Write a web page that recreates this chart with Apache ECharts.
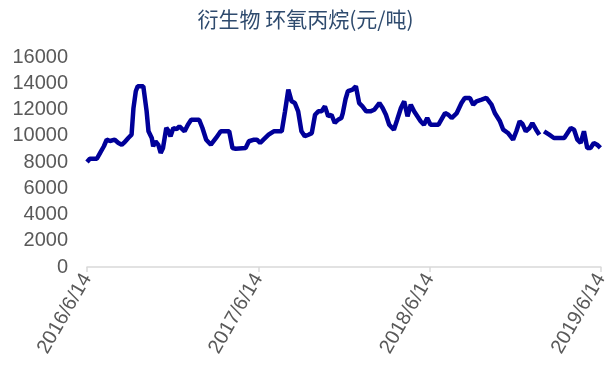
<!DOCTYPE html>
<html><head><meta charset="utf-8">
<script src="https://cdn.jsdelivr.net/npm/echarts@6/dist/echarts.min.js"></script>
<style>html,body{margin:0;padding:0;background:#fff}#c{width:611px;height:380px}</style>
</head><body><div id="c"></div>
<script>
var title = '衍生物 环氧丙烷(元/吨)';
var startDate = '2016-06-14';
var tickLabels = ['2016/6/14', '2017/6/14', '2018/6/14', '2019/6/14'];
var dates = [
'2016-06-14','2016-06-20','2016-07-05','2016-07-12','2016-07-20','2016-07-26','2016-08-02','2016-08-06','2016-08-12','2016-08-20',
'2016-08-27','2016-09-02','2016-09-10','2016-09-17','2016-09-21','2016-09-26','2016-09-30','2016-10-12','2016-10-19','2016-10-23',
'2016-10-30','2016-11-02','2016-11-07','2016-11-13','2016-11-18','2016-11-23','2016-11-30','2016-12-05','2016-12-09','2016-12-15',
'2016-12-22','2016-12-28','2017-01-08','2017-01-15','2017-01-22','2017-02-08','2017-02-15','2017-02-23','2017-03-05','2017-03-16',
'2017-03-26','2017-04-13','2017-04-20','2017-04-27','2017-05-18','2017-05-25','2017-06-05','2017-06-11','2017-06-18','2017-06-25',
'2017-07-06','2017-07-17','2017-08-03','2017-08-10','2017-08-17','2017-08-24','2017-08-31','2017-09-07','2017-09-14','2017-09-21',
'2017-09-29','2017-10-06','2017-10-13','2017-10-20','2017-10-27','2017-11-03','2017-11-10','2017-11-17','2017-11-24','2017-12-01',
'2017-12-08','2017-12-11','2017-12-17','2017-12-22','2018-01-01','2018-01-08','2018-01-15','2018-01-22','2018-01-30','2018-02-08',
'2018-02-16','2018-02-27','2018-03-06','2018-03-13','2018-03-20','2018-03-30','2018-04-06','2018-04-14','2018-04-21','2018-04-28',
'2018-05-05','2018-05-12','2018-05-19','2018-05-26','2018-06-02','2018-06-09','2018-06-16','2018-07-03','2018-07-17','2018-07-24',
'2018-07-31','2018-08-11','2018-08-21','2018-08-28','2018-09-08','2018-09-15','2018-09-22','2018-10-03','2018-10-13','2018-10-24',
'2018-10-31','2018-11-11','2018-11-18','2018-11-28','2018-12-09','2018-12-16','2018-12-23','2018-12-29','2019-01-05','2019-01-13',
'2019-01-19','2019-01-27','2019-02-03','2019-02-07','2019-02-13','2019-02-24','2019-03-06','2019-03-17','2019-03-28','2019-04-04',
'2019-04-11','2019-04-18','2019-04-25','2019-05-02','2019-05-09','2019-05-16','2019-05-23','2019-05-30','2019-06-06','2019-06-13'
];
var prices = [
8000,8250,8250,8700,9200,9700,9600,9450,9700,9450,
9320,9500,9830,10080,12100,13390,13770,13770,11890,10340,
9830,9200,9580,9300,8690,9070,10600,10350,9950,10590,
10500,10720,10340,10840,11220,11220,10590,9700,9320,9830,
10340,10340,9070,9010,9070,9580,9700,9700,9450,9700,
10080,10340,10340,11860,13510,12620,12490,11860,10340,9960,
10080,10200,11600,11860,11860,12240,11480,11600,10970,11220,
11350,11700,12800,13390,13510,13770,12490,12240,11860,11860,
11980,12490,12110,11600,10840,10460,11220,12110,12620,11480,
12370,11860,11480,11100,10840,11350,10840,10840,11730,11600,
11350,11730,12490,12880,12880,12370,12620,12750,12880,12370,
11730,11100,10460,10210,9700,10340,11100,10900,10340,10590,
10970,10460,10080,null,10340,10080,9830,9830,9830,10210,
10590,10460,9700,9450,10340,9070,9070,9450,9320,9070
];
var DAY = 86400000;
function toMs(s){ var p = s.split('-'); return Date.UTC(+p[0], +p[1]-1, +p[2]); }
function toDays(s){ return Math.round((toMs(s) - toMs(startDate)) / DAY); }
var seriesData = dates.map(function(d, i){ return [toDays(d), prices[i]]; });
var chart = echarts.init(document.getElementById('c'));
chart.setOption({
  animation: false,
  title: { text: title, left: 'center', top: 4, textStyle: { fontFamily: 'Noto Sans CJK SC', fontSize: 21, fontWeight: 'normal', color: '#2F4B6E' } },
  grid: { left: 87, right: 7, top: 57, bottom: 113, containLabel: false },
  xAxis: {
    type: 'value', min: 0, max: 1095, interval: 365,
    splitLine: { show: false },
    axisLine: { show: true, lineStyle: { color: '#D9D9D9', width: 1.5 } },
    axisTick: { show: true, length: 5, lineStyle: { color: '#D9D9D9', width: 1.5 } },
    axisLabel: {
      rotate: 60, margin: 8, fontSize: 20, color: '#595959', fontFamily: 'Liberation Sans',
      formatter: function(v){ return tickLabels[Math.round(v / 365)] || ''; }
    }
  },
  yAxis: {
    type: 'value', min: 0, max: 16000, interval: 2000,
    splitLine: { show: false },
    axisLine: { show: false }, axisTick: { show: false },
    axisLabel: { fontSize: 20, color: '#595959', fontFamily: 'Liberation Sans', margin: 19,
      formatter: function(v){ return String(v); } }
  },
  series: [{
    type: 'line', data: seriesData, showSymbol: false, connectNulls: false,
    lineStyle: { color: '#000099', width: 4.5 }, itemStyle: { color: '#000099' }
  }]
});
</script></body></html>
